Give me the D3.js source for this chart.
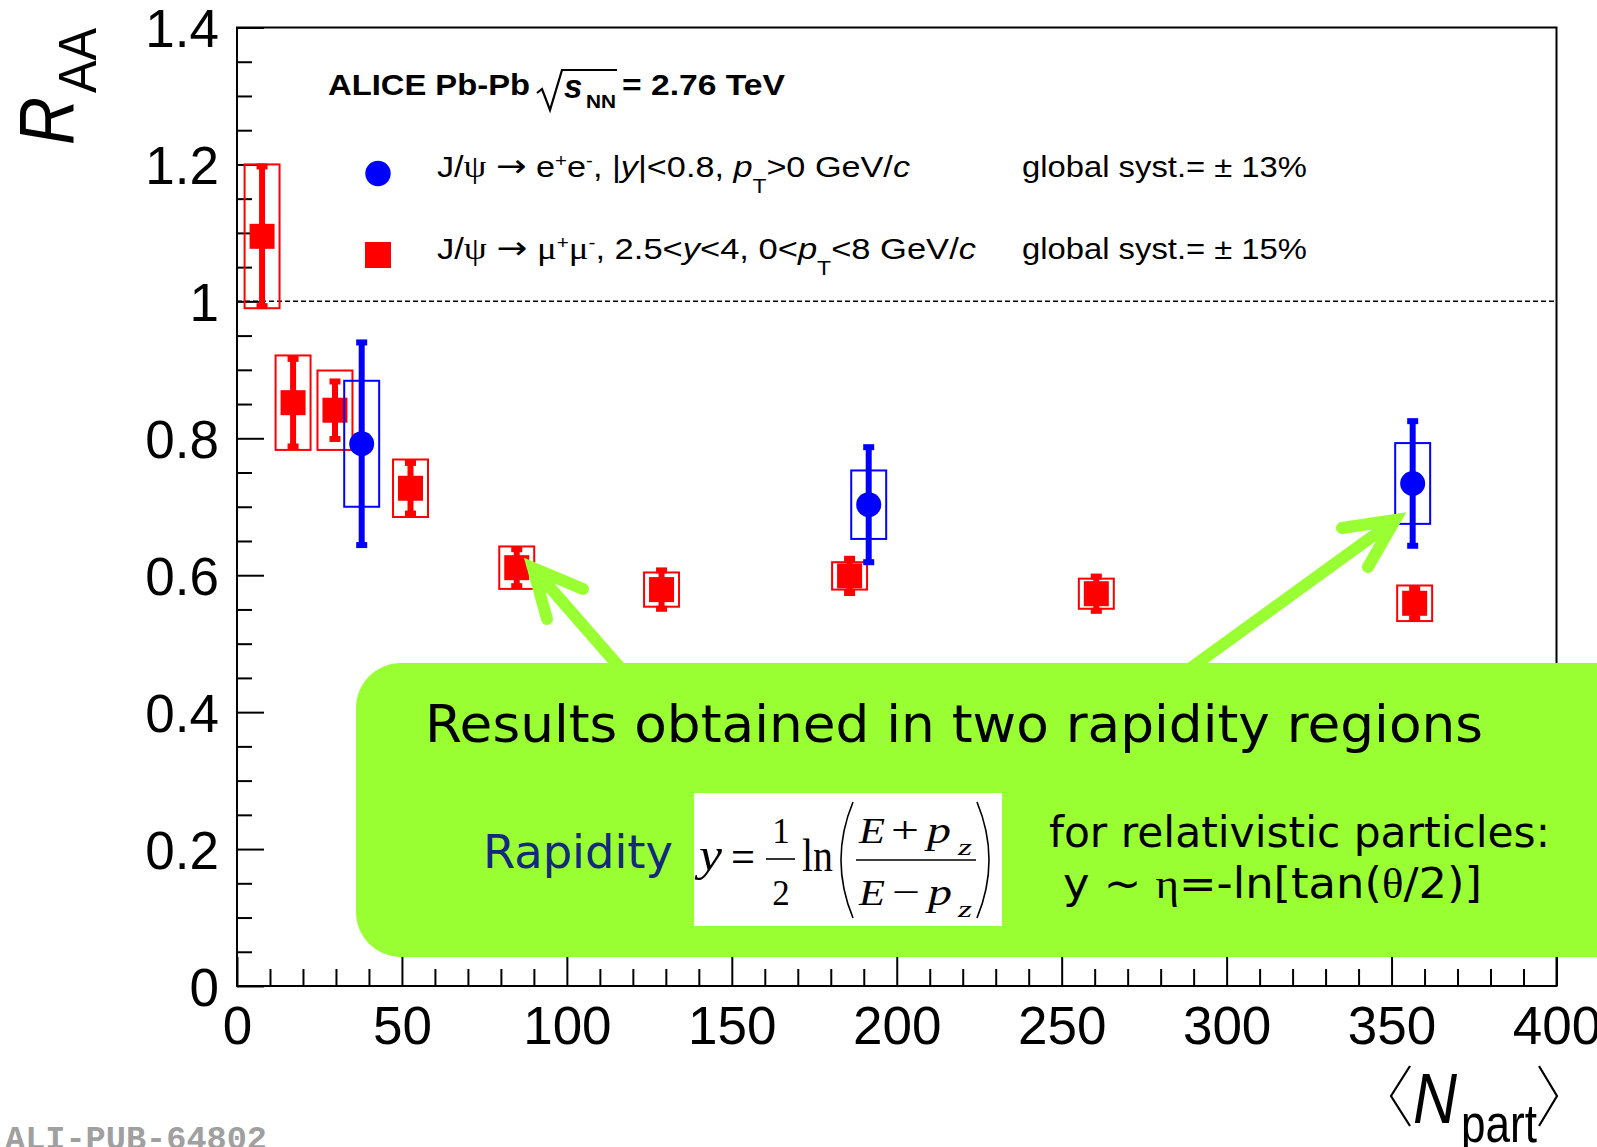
<!DOCTYPE html>
<html><head><meta charset="utf-8">
<script src="https://cdn.jsdelivr.net/npm/d3@7"></script>
<style>body{margin:0;background:#fff;overflow:hidden;} svg{display:block;}</style>
</head><body>
<script>
// ---- data ----
const npartMu = [7.6, 17.0, 29.7, 52.6, 84.8, 128.7, 185.7, 260.5, 357.0];
const raaMu   = [1.095, 0.852, 0.841, 0.727, 0.611, 0.579, 0.599, 0.573, 0.559];
const statMu  = [0.102, 0.064, 0.042, 0.037, 0.027, 0.028, 0.025, 0.025, 0.022];
const sysMu   = [0.105, 0.069, 0.058, 0.042, 0.031, 0.025, 0.020, 0.022, 0.026];

const npartEe = [37.8, 191.5, 356.4];
const raaEe   = [0.792, 0.703, 0.734];
const statEe  = [0.148, 0.084, 0.091];
const sysEe   = [0.092, 0.050, 0.059];

const boxHalfWidth = 5.3; // in Npart units

const xTickValues = [0, 50, 100, 150, 200, 250, 300, 350, 400];
const xTickLabels = ["0", "50", "100", "150", "200", "250", "300", "350", "400"];
const yTickValues = [0, 0.2, 0.4, 0.6, 0.8, 1.0, 1.2, 1.4];
const yTickLabels = ["0", "0.2", "0.4", "0.6", "0.8", "1", "1.2", "1.4"];

// ---- setup ----
const W = 1597, H = 1147;
const SANS = "'Liberation Sans', Arial, Helvetica, sans-serif";
const SERIF = "'Liberation Serif', 'Times New Roman', serif";
const VERD = "'DejaVu Sans', Verdana, sans-serif";
const RED = "#ff0000", BLUE = "#0000ff", GREEN = "#99ff33";

const svg = d3.select("body").append("svg").attr("width", W).attr("height", H);
svg.append("rect").attr("width", W).attr("height", H).attr("fill", "#fff");

const x = d3.scaleLinear().domain([0, 400]).range([237, 1556.5]);
const y = d3.scaleLinear().domain([0, 1.4]).range([986, 27.5]);

// ---- axes ----
function styleAxis(g) {
  g.select(".domain").remove();
  g.selectAll("line").attr("stroke", "#000").attr("stroke-width", 2);
  g.selectAll("text").attr("font-family", SANS).attr("font-size", 53).attr("fill", "#000");
}
const yMinor = d3.range(0, 29).filter(i => i % 4 !== 0).map(i => i * 0.05);
const xMinor = d3.range(0, 41).filter(i => i % 5 !== 0).map(i => i * 10);

svg.append("g").attr("transform", `translate(${x(0)},0)`)
  .call(d3.axisLeft(y).tickValues(yMinor).tickFormat("").tickSize(-15)).call(styleAxis);
svg.append("g").attr("transform", `translate(${x(0)},0)`)
  .call(d3.axisLeft(y).tickValues(yTickValues).tickFormat((d, i) => yTickLabels[i]).tickSize(-27).tickPadding(18))
  .call(styleAxis)
  .selectAll("text").attr("dy", "0.36em");

svg.append("g").attr("transform", `translate(0,${y(0)})`)
  .call(d3.axisBottom(x).tickValues(xMinor).tickFormat("").tickSize(-17)).call(styleAxis);
svg.append("g").attr("transform", `translate(0,${y(0)})`)
  .call(d3.axisBottom(x).tickValues(xTickValues).tickFormat((d, i) => xTickLabels[i]).tickSize(-29).tickPadding(20))
  .call(styleAxis);

// frame
svg.append("rect")
  .attr("x", x(0)).attr("y", y(1.4))
  .attr("width", x(400) - x(0)).attr("height", y(0) - y(1.4))
  .attr("fill", "none").attr("stroke", "#000").attr("stroke-width", 2);

// dashed line at 1
svg.append("line")
  .attr("x1", x(0)).attr("x2", x(400)).attr("y1", y(1)).attr("y2", y(1))
  .attr("stroke", "#000").attr("stroke-width", 1.5).attr("stroke-dasharray", "5,3");

// ---- data drawing ----
function drawSeries(np, val, stat, sys, color, marker) {
  const data = np.map((n, i) => ({ n, v: val[i], st: stat[i], sy: sys[i] }));
  const g = svg.append("g");
  g.selectAll("rect.sys").data(data).join("rect").attr("class", "sys")
    .attr("x", d => x(d.n - boxHalfWidth)).attr("width", d => x(d.n + boxHalfWidth) - x(d.n - boxHalfWidth))
    .attr("y", d => y(d.v + d.sy)).attr("height", d => y(d.v - d.sy) - y(d.v + d.sy))
    .attr("fill", "none").attr("stroke", color).attr("stroke-width", 2);
  g.selectAll("line.stat").data(data).join("line").attr("class", "stat")
    .attr("x1", d => x(d.n)).attr("x2", d => x(d.n))
    .attr("y1", d => y(d.v - d.st)).attr("y2", d => y(d.v + d.st))
    .attr("stroke", color).attr("stroke-width", 6);
  const caps = data.flatMap(d => [d.v - d.st, d.v + d.st].map(e => ({ n: d.n, e })));
  g.selectAll("rect.cap").data(caps).join("rect").attr("class", "cap")
    .attr("x", d => x(d.n) - 5.5).attr("width", 11)
    .attr("y", d => y(d.e) - 3).attr("height", 6).attr("fill", color);
  if (marker === "square") {
    g.selectAll("rect.mk").data(data).join("rect").attr("class", "mk")
      .attr("x", d => x(d.n) - 12.5).attr("y", d => y(d.v) - 12.5)
      .attr("width", 25).attr("height", 25).attr("fill", color);
  } else {
    g.selectAll("circle.mk").data(data).join("circle").attr("class", "mk")
      .attr("cx", d => x(d.n)).attr("cy", d => y(d.v)).attr("r", 12.5).attr("fill", color);
  }
}
drawSeries(npartMu, raaMu, statMu, sysMu, RED, "square");
drawSeries(npartEe, raaEe, statEe, sysEe, BLUE, "circle");

// ---- rich text helper ----
function rich(g, x0, yb, size, parts, len, extra) {
  const t = g.append("text").attr("x", x0).attr("y", yb)
    .attr("font-family", SANS).attr("font-size", size).attr("fill", "#000");
  if (extra) extra(t);
  let shift = 0;
  parts.forEach(p => {
    const target = p.sup ? -p.sup : (p.sub ? p.sub : 0);
    const ts = t.append("tspan").attr("dy", target - shift).text(p.t);
    shift = target;
    if (p.i) ts.attr("font-style", "italic");
    if (p.f) ts.attr("font-family", p.f);
    if (p.s) ts.attr("font-size", p.s);
    if (p.b) ts.attr("font-weight", "bold");
  });
  if (len) t.attr("textLength", len).attr("lengthAdjust", "spacingAndGlyphs");
  return t;
}

// ---- legend ----
const lg = svg.append("g");
// title
lg.append("text").attr("x", 328).attr("y", 95).attr("font-family", SANS).attr("font-weight", "bold")
  .attr("font-size", 30).attr("textLength", 202).attr("lengthAdjust", "spacingAndGlyphs").text("ALICE Pb-Pb");
lg.append("path").attr("d", "M537,93 L542,89 L550,110 L562,70 L617,70")
  .attr("fill", "none").attr("stroke", "#000").attr("stroke-width", 2.2).attr("stroke-linejoin", "miter");
lg.append("text").attr("x", 564).attr("y", 98).attr("font-family", SANS).attr("font-weight", "bold")
  .attr("font-style", "italic").attr("font-size", 33).text("s");
lg.append("text").attr("x", 586).attr("y", 108).attr("font-family", SANS).attr("font-weight", "bold")
  .attr("font-size", 19).attr("textLength", 30).attr("lengthAdjust", "spacingAndGlyphs").text("NN");
lg.append("text").attr("x", 622).attr("y", 95).attr("font-family", SANS).attr("font-weight", "bold")
  .attr("font-size", 30).attr("textLength", 163).attr("lengthAdjust", "spacingAndGlyphs").text("= 2.76 TeV");

// entries
lg.append("circle").attr("cx", 378).attr("cy", 173.5).attr("r", 12.7).attr("fill", BLUE);
lg.append("rect").attr("x", 365).attr("y", 242).attr("width", 26).attr("height", 26).attr("fill", RED);

rich(lg, 437, 177, 30, [
  { t: "J/" }, { t: "ψ", f: SERIF, s: 32 }, { t: " " }, { t: "→", f: VERD, s: 32 }, { t: " e" }, { t: "+", sup: 10, s: 18 }, { t: "e" },
  { t: "-", sup: 10, s: 18 }, { t: ", |" }, { t: "y", i: true }, { t: "|<0.8, " }, { t: "p", i: true },
  { t: "T", sub: 16, s: 20 }, { t: ">0 GeV/" }, { t: "c", i: true }
], 473);
rich(lg, 437, 259, 30, [
  { t: "J/" }, { t: "ψ", f: SERIF, s: 32 }, { t: " " }, { t: "→", f: VERD, s: 32 }, { t: " " }, { t: "μ", f: SERIF, s: 32 }, { t: "+", sup: 10, s: 18 },
  { t: "μ", f: SERIF, s: 32 }, { t: "-", sup: 10, s: 18 }, { t: ", 2.5<" }, { t: "y", i: true }, { t: "<4, 0<" },
  { t: "p", i: true }, { t: "T", sub: 16, s: 20 }, { t: "<8 GeV/" }, { t: "c", i: true }
], 539);
rich(lg, 1022, 177, 30, [{ t: "global syst.= ± 13%" }], 285);
rich(lg, 1022, 259, 30, [{ t: "global syst.= ± 15%" }], 285);

// ---- axis titles ----
const rg = svg.append("g").attr("transform", "translate(73,145) rotate(-90)");
rg.append("text").attr("x", 0).attr("y", 0).attr("font-family", SANS).attr("font-style", "italic")
  .attr("font-size", 78).attr("textLength", 48).attr("lengthAdjust", "spacingAndGlyphs").text("R");
rg.append("text").attr("x", 52).attr("y", 23).attr("font-family", SANS)
  .attr("font-size", 54).attr("textLength", 65).attr("lengthAdjust", "spacingAndGlyphs").text("AA");

const xg = svg.append("g");
xg.append("path").attr("d", "M1410,1066 L1391,1096 L1410,1126").attr("fill", "none").attr("stroke", "#000").attr("stroke-width", 2.2);
xg.append("path").attr("d", "M1539,1066 L1557,1096 L1539,1126").attr("fill", "none").attr("stroke", "#000").attr("stroke-width", 2.2);
xg.append("text").attr("x", 1413).attr("y", 1123).attr("font-family", SANS).attr("font-style", "italic")
  .attr("font-size", 71).attr("textLength", 44).attr("lengthAdjust", "spacingAndGlyphs").text("N");
xg.append("text").attr("x", 1461).attr("y", 1142).attr("font-family", SANS)
  .attr("font-size", 54).attr("textLength", 76).attr("lengthAdjust", "spacingAndGlyphs").text("part");

svg.append("text").attr("x", 5).attr("y", 1149).attr("font-family", "'Liberation Mono', 'Courier New', monospace")
  .attr("font-weight", "bold").attr("font-size", 33).attr("fill", "#a0a0a0")
  .attr("textLength", 262).attr("lengthAdjust", "spacingAndGlyphs").text("ALI-PUB-64802");

// ---- callout ----
const cg = svg.append("g");
const arrows = [
  { tip: [533, 568], a1: [583, 589], a2: [547, 619], end: [622, 670] },
  { tip: [1395, 520], a1: [1342, 528], a2: [1368, 567], end: [1188, 670] }
];
arrows.forEach(a => {
  cg.append("path")
    .attr("d", `M${a.end[0]},${a.end[1]} L${a.tip[0]},${a.tip[1]} M${a.a1[0]},${a.a1[1]} L${a.tip[0]},${a.tip[1]} L${a.a2[0]},${a.a2[1]}`)
    .attr("fill", "none").attr("stroke", GREEN).attr("stroke-width", 12)
    .attr("stroke-linecap", "round").attr("stroke-linejoin", "miter");
});
cg.append("rect").attr("x", 356).attr("y", 663).attr("width", 1400).attr("height", 294)
  .attr("rx", 45).attr("ry", 45).attr("fill", GREEN);

cg.append("text").attr("x", 425).attr("y", 742).attr("font-family", VERD).attr("font-size", 52)
  .attr("fill", "#000").attr("textLength", 1058).attr("lengthAdjust", "spacingAndGlyphs")
  .text("Results obtained in two rapidity regions");
cg.append("text").attr("x", 483).attr("y", 868).attr("font-family", VERD).attr("font-size", 46)
  .attr("fill", "#12297c").attr("textLength", 190).attr("lengthAdjust", "spacingAndGlyphs").text("Rapidity");
cg.append("text").attr("x", 1049).attr("y", 847).attr("font-family", VERD).attr("font-size", 42)
  .attr("fill", "#000").attr("textLength", 501).attr("lengthAdjust", "spacingAndGlyphs").text("for relativistic particles:");
rich(cg, 1063, 898, 42, [
  { t: "y ~ ", f: VERD }, { t: "η", f: SERIF }, { t: "=-ln[tan(", f: VERD }, { t: "θ", f: SERIF }, { t: "/2)]", f: VERD }
], 419);

// formula box
const fg = cg.append("g");
fg.append("rect").attr("x", 694).attr("y", 793).attr("width", 308).attr("height", 133).attr("fill", "#fff");
function ft(xx, yy, s, txt, it, len, anchor) {
  const t = fg.append("text").attr("x", xx).attr("y", yy).attr("font-family", SERIF).attr("font-size", s)
    .attr("fill", "#000").text(txt);
  if (it) t.attr("font-style", "italic");
  if (len) t.attr("textLength", len).attr("lengthAdjust", "spacingAndGlyphs");
  if (anchor) t.attr("text-anchor", anchor);
  return t;
}
ft(699, 870, 46, "y", true, 23);
ft(731, 873, 48, "=", false, 24);
ft(781, 843, 35, "1", false, null, "middle");
fg.append("line").attr("x1", 766).attr("x2", 795).attr("y1", 859).attr("y2", 859).attr("stroke", "#000").attr("stroke-width", 1.6);
ft(781, 905, 35, "2", false, null, "middle");
ft(802, 871, 46, "ln", false, 31);
fg.append("path").attr("d", "M853,802 Q829,860 853,918").attr("fill", "none").attr("stroke", "#000").attr("stroke-width", 1.6);
fg.append("path").attr("d", "M977,802 Q1001,860 977,918").attr("fill", "none").attr("stroke", "#000").attr("stroke-width", 1.6);
ft(859, 843, 36, "E", true, 26);
ft(891, 843, 38, "+", false, 28);
ft(927, 843, 38, "p", true, 24);
ft(958, 855, 24, "z", true, 14);
fg.append("line").attr("x1", 856).attr("x2", 976).attr("y1", 860).attr("y2", 860).attr("stroke", "#000").attr("stroke-width", 1.6);
ft(859, 905, 36, "E", true, 26);
ft(892, 905, 38, "−", false, 28);
ft(928, 905, 38, "p", true, 24);
ft(958, 917, 24, "z", true, 14);
</script>
</body></html>
